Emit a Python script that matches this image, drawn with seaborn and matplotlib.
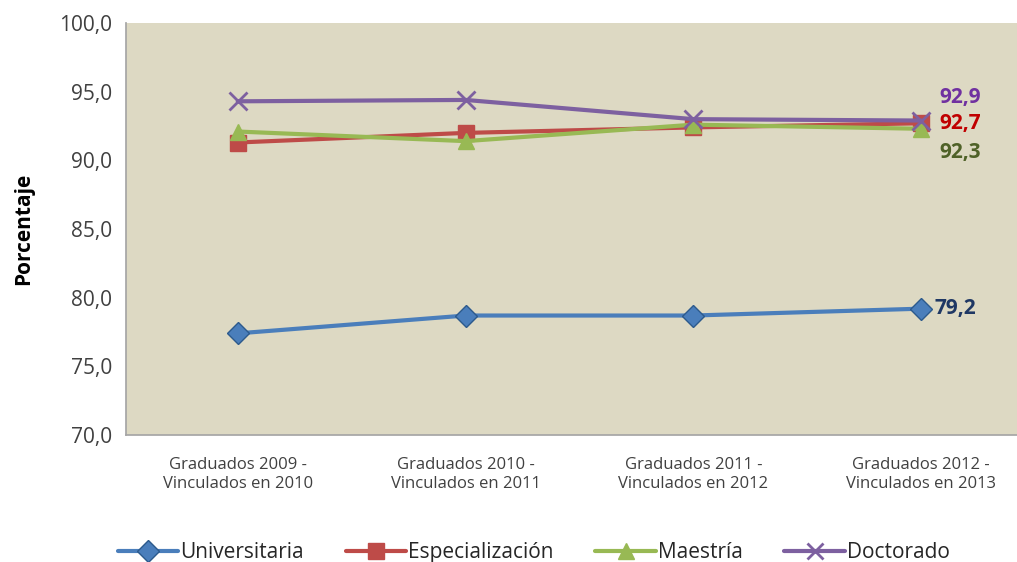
import seaborn as sns
import matplotlib.pyplot as plt
import pandas as pd

periodos = ['Graduados 2009 -\nVinculados en 2010', 'Graduados 2010 -\nVinculados en 2011',
            'Graduados 2011 -\nVinculados en 2012', 'Graduados 2012 -\nVinculados en 2013']
universitaria = [77.4, 78.7, 78.7, 79.2]
especializacion = [91.3, 92.0, 92.4, 92.7]
maestria = [92.1, 91.4, 92.6, 92.3]
doctorado = [94.3, 94.4, 93.0, 92.9]

series = ['Universitaria', 'Especialización', 'Maestría', 'Doctorado']
valores = [universitaria, especializacion, maestria, doctorado]

rows = []
for nombre, vals in zip(series, valores):
    for i, v in enumerate(vals):
        rows.append({'Periodo': i, 'Nivel': nombre, 'Porcentaje': v})
df = pd.DataFrame(rows)

sns.set_theme(style='white')
plt.rcParams['font.family'] = ['Open Sans', 'DejaVu Sans']

colores = {'Universitaria': '#4A7EBB', 'Especialización': '#BE4B48',
           'Maestría': '#98B954', 'Doctorado': '#7D60A0'}
marcadores = {'Universitaria': 'D', 'Especialización': 's',
              'Maestría': '^', 'Doctorado': 'x'}
edge = {'Universitaria': '#2C5A8C', 'Especialización': '#BE4B48',
        'Maestría': '#98B954', 'Doctorado': '#7D60A0'}

fig = plt.figure(figsize=(10.17, 5.62), dpi=100)
ax = fig.add_axes([0.124, 0.226, 0.876, 0.733])
ax.set_facecolor('#DDD9C3')

for nombre in series:
    sub = df[df['Nivel'] == nombre]
    sns.lineplot(data=sub, x='Periodo', y='Porcentaje', color=colores[nombre],
                 marker=marcadores[nombre], linewidth=3, ax=ax,
                 markersize=13 if nombre == 'Doctorado' else 11,
                 markeredgecolor=edge[nombre] if nombre != 'Doctorado' else colores[nombre],
                 markeredgewidth=2 if nombre == 'Doctorado' else 1)

ax.set_ylim(70, 100)
ax.set_xlim(-0.49, 3.42)
ax.set_yticks([70, 75, 80, 85, 90, 95, 100])
ax.set_yticklabels([f'{t:.1f}'.replace('.', ',') for t in ax.get_yticks()],
                   fontsize=15, color='#404040')
ax.set_xticks(range(len(periodos)))
ax.set_xticklabels(periodos, fontsize=12, color='#404040')
ax.tick_params(axis='x', pad=16, length=0)
ax.tick_params(axis='y', pad=10, length=0)
ax.set_xlabel('')
ax.set_ylabel('Porcentaje', fontsize=15, fontweight='bold', color='black', labelpad=18)
for s in ['top', 'right']:
    ax.spines[s].set_visible(False)
ax.spines['left'].set_color('#A6A6A6')
ax.spines['bottom'].set_color('#A6A6A6')

etiquetas = [('92,9', doctorado[-1] + 1.7, '#7030A0', 3.08),
             ('92,7', especializacion[-1] - 0.05, '#C00000', 3.08),
             ('92,3', maestria[-1] - 1.7, '#4F6228', 3.08),
             ('79,2', universitaria[-1], '#1F3864', 3.06)]
for txt, y, c, x in etiquetas:
    ax.text(x, y, txt, color=c, fontsize=15, fontweight='bold', va='center', ha='left')

handles = [plt.Line2D([], [], color=colores[n], marker=marcadores[n], lw=3,
                      markersize=11 if n != 'Doctorado' else 12,
                      markeredgecolor=edge[n] if n != 'Doctorado' else colores[n],
                      markeredgewidth=2 if n == 'Doctorado' else 1)
           for n in series]
fig.legend(handles, series, loc='lower center', ncol=4, frameon=False,
           fontsize=15, bbox_to_anchor=(0.525, -0.035), handlelength=2.9,
           handletextpad=0.1, columnspacing=2.0)

fig.savefig('out.png', dpi=100)
